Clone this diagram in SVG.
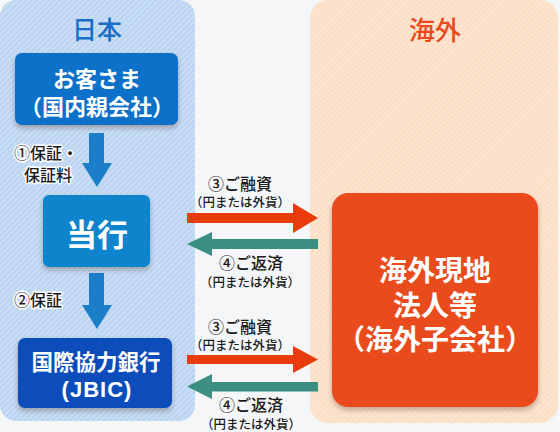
<svg xmlns="http://www.w3.org/2000/svg" width="560" height="432" viewBox="0 0 560 432">
<style>
.jp{font-family:"Noto Sans CJK JP","Noto Sans",sans-serif}
.nt{fill:#fff;font-weight:bold;text-anchor:middle}
.lb{fill:#1a1a1a;font-size:16px;font-weight:500;text-anchor:middle}
.sm{fill:#1a1a1a;font-size:12.5px;font-weight:500;text-anchor:middle}
.halo{fill:#1a1a1a;font-size:16px;font-weight:500;stroke:#fff;stroke-width:3px;paint-order:stroke;stroke-linejoin:round}
</style>
<defs>
<pattern id="hb" width="4" height="4" patternUnits="userSpaceOnUse" patternTransform="rotate(45)">
<rect width="4" height="4" fill="#bad4f1"/><rect width="1.3" height="4" fill="#d2e3f6"/>
</pattern>
<pattern id="ho" width="4" height="4" patternUnits="userSpaceOnUse" patternTransform="rotate(45)">
<rect width="4" height="4" fill="#fcdec4"/><rect width="1.3" height="4" fill="#fde9d8"/>
</pattern>
<filter id="sh" x="-15%" y="-15%" width="130%" height="140%">
<feDropShadow dx="0" dy="3" stdDeviation="2.5" flood-color="#3a1a00" flood-opacity="0.3"/>
</filter>
</defs>
<rect width="560" height="432" fill="#f5f6f8"/>
<g id="panel-japan">
<rect x="0" y="0" width="195" height="421" rx="16" fill="url(#hb)"/>
<text class="jp" x="97" y="39" font-size="25" font-weight="500" fill="#1a6ec8" text-anchor="middle">日本</text>
</g>
<g id="panel-overseas">
<rect x="310" y="0" width="248" height="423" rx="18" fill="url(#ho)"/>
<text class="jp" x="435" y="40" font-size="26" font-weight="500" fill="#e84a1e" text-anchor="middle">海外</text>
</g>
<g id="connectors">
<g id="arrow-1">
<path d="M89 133 H104 V163 H112 L97 187 L82 163 H89 Z" fill="#1a7ec8"/>
<text class="jp halo" x="14" y="159">①保証・</text>
<text class="jp halo" x="24" y="181">保証料</text>
</g>
<g id="arrow-2">
<path d="M89 273 H104 V305 H112 L97 329 L82 305 H89 Z" fill="#1a7ec8"/>
<text class="jp halo" x="14" y="306">②保証</text>
</g>
<g id="loan-1">
<text class="jp lb" x="240" y="190">③ご融資</text>
<text class="jp sm" x="240" y="207">（円または外貨）</text>
<path d="M187 213 H293 V203 L318 218 L293 233 V223 H187 Z" fill="#e83c0c"/>
</g>
<g id="repay-1">
<path d="M318 239 H212 V232 L187 244 L212 256 V249 H318 Z" fill="#3a8f80"/>
<text class="jp lb" x="251" y="269">④ご返済</text>
<text class="jp sm" x="250" y="287">（円または外貨）</text>
</g>
<g id="loan-2">
<text class="jp lb" x="240" y="333">③ご融資</text>
<text class="jp sm" x="240" y="350">（円または外貨）</text>
<path d="M187 355 H293 V346 L318 359.5 L293 373 V364 H187 Z" fill="#e83c0c"/>
</g>
<g id="repay-2">
<path d="M318 382 H212 V374 L187 386.5 L212 399 V391.5 H318 Z" fill="#3a8f80"/>
<text class="jp lb" x="251" y="411">④ご返済</text>
<text class="jp sm" x="251" y="429">（円または外貨）</text>
</g>
</g>
<g id="node-customer">
<rect x="15" y="53" width="163" height="72" rx="7" fill="#0a6fc9" filter="url(#sh)"/>
<text class="jp nt" x="97" y="87" font-size="22">お客さま</text>
<text class="jp nt" x="97" y="115" font-size="22">（国内親会社）</text>
</g>
<g id="node-bank">
<rect x="43" y="195" width="107" height="72" rx="6" fill="#0b84cc" filter="url(#sh)"/>
<text class="jp nt" x="97" y="246" font-size="31">当行</text>
</g>
<g id="node-jbic">
<rect x="18" y="338" width="154" height="70" rx="7" fill="#0c4dbb" filter="url(#sh)"/>
<text class="jp nt" x="96" y="370" font-size="21.5">国際協力銀行</text>
<text class="nt" x="97" y="397" font-size="22" letter-spacing="1" font-family="Liberation Sans, Arial, sans-serif">(JBIC)</text>
</g>
<g id="node-overseas-sub">
<rect x="332" y="193" width="206" height="214" rx="16" fill="#e94b1e" filter="url(#sh)"/>
<text class="jp nt" x="435" y="281" font-size="28">海外現地</text>
<text class="jp nt" x="435" y="316" font-size="28">法人等</text>
<text class="jp nt" x="435" y="350" font-size="28">（海外子会社）</text>
</g>
</svg>
